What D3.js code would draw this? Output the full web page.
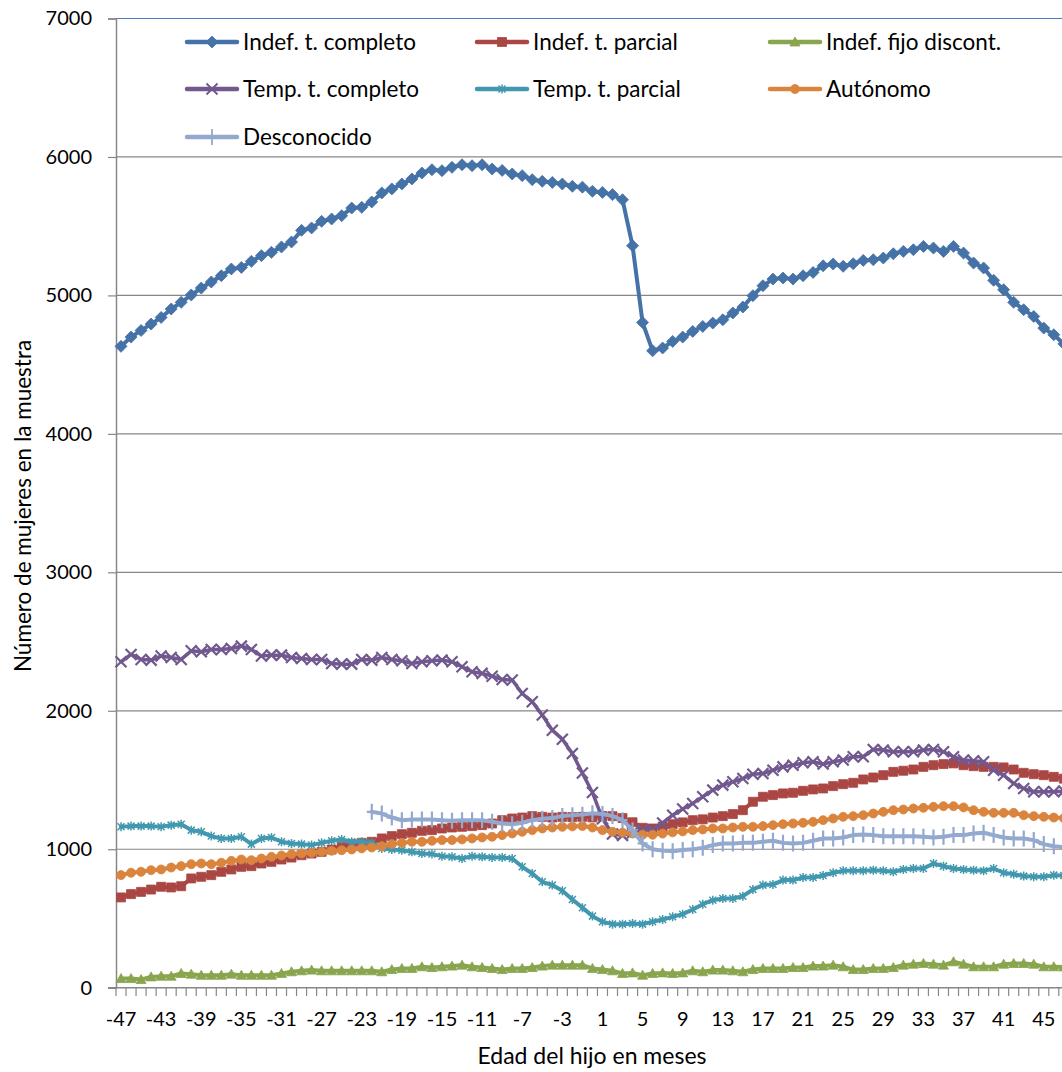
<!DOCTYPE html>
<html><head><meta charset="utf-8">
<script src="https://cdn.jsdelivr.net/npm/d3@7/dist/d3.min.js"></script>
<style>
html,body{margin:0;padding:0;background:#fff;overflow:hidden}
svg{display:block}
text{font-family:Lato,"Open Sans",sans-serif;fill:#000}
</style></head>
<body>
<svg id="chart" width="1062" height="1072"></svg>
<script>
const months = [-47,-46,-45,-44,-43,-42,-41,-40,-39,-38,-37,-36,-35,-34,-33,-32,-31,-30,-29,-28,-27,-26,-25,-24,-23,-22,-21,-20,-19,-18,-17,-16,-15,-14,-13,-12,-11,-10,-9,-8,-7,-6,-5,-4,-3,-2,-1,0,1,2,3,4,5,6,7,8,9,10,11,12,13,14,15,16,17,18,19,20,21,22,23,24,25,26,27,28,29,30,31,32,33,34,35,36,37,38,39,40,41,42,43,44,45,46,47];
const xTickLabels = [-47,-43,-39,-35,-31,-27,-23,-19,-15,-11,-7,-3,1,5,9,13,17,21,25,29,33,37,41,45];
const yTicks = [0,1000,2000,3000,4000,5000,6000,7000];

const indefCompleto = [4632,4699,4747,4793,4841,4902,4950,5003,5053,5097,5142,5191,5202,5246,5287,5311,5350,5386,5470,5487,5535,5552,5576,5631,5636,5675,5740,5769,5805,5841,5884,5908,5901,5925,5944,5937,5944,5913,5903,5877,5865,5836,5824,5816,5805,5788,5782,
 5752,5744,5728,5691,5359,4805,4600,4620,4668,4699,4740,4776,4800,4824,4873,4916,4998,5070,5118,5126,5118,5142,5166,5214,5227,5210,5229,5253,5258,5270,5301,5318,5330,5354,5342,5318,5354,5306,5234,5198,5109,5041,4950,4897,4848,4764,4716,4650];
const indefParcial = [652,676,692,709,729,724,733,789,801,813,837,854,873,878,897,909,926,940,957,969,981,998,1018,1037,1046,1054,1078,1095,1109,1119,1133,1138,1150,1157,1162,1167,1174,1186,1210,1222,1229,1239,1234,1229,1234,1232,1234,
 1230,1240,1239,1225,1195,1155,1150,1164,1181,1194,1210,1216,1229,1239,1254,1282,1343,1379,1391,1403,1408,1422,1432,1439,1456,1470,1480,1504,1518,1535,1559,1567,1576,1595,1607,1615,1620,1607,1600,1595,1595,1591,1576,1552,1542,1535,1523,1510];
const fijoDiscont = [66,66,59,78,83,83,103,98,90,90,90,98,90,90,90,90,103,115,122,127,122,122,122,122,122,122,115,131,139,139,151,146,151,156,163,151,146,139,131,139,139,146,156,163,163,163,163,
 139,131,122,103,107,90,103,107,103,107,122,115,127,127,122,115,131,139,139,139,146,146,156,156,163,151,131,131,139,139,146,163,170,175,170,163,187,170,151,151,151,170,175,175,170,151,151,150];
const tempCompleto = [2354,2407,2371,2366,2395,2385,2371,2433,2426,2443,2443,2450,2467,2443,2395,2402,2402,2385,2378,2371,2371,2342,2337,2337,2371,2366,2385,2371,2361,2342,2354,2361,2366,2354,2318,2282,2270,2250,2226,2222,2125,2065,1969,1860,1795,1692,1550,
 1410,1220,1110,1100,1120,1140,1140,1190,1246,1290,1331,1379,1427,1463,1487,1511,1542,1547,1571,1595,1607,1624,1632,1615,1632,1644,1668,1668,1721,1716,1704,1704,1704,1716,1721,1704,1668,1644,1639,1632,1571,1535,1475,1439,1415,1415,1415,1420];
const tempParcial = [1162,1167,1167,1167,1162,1174,1181,1138,1126,1095,1078,1078,1090,1037,1078,1085,1054,1042,1037,1030,1046,1061,1071,1054,1054,1046,1006,998,993,981,969,965,950,945,933,950,945,940,940,933,873,825,765,741,700,637,578,
 517,476,459,459,464,459,476,493,512,531,565,603,632,644,644,661,709,741,745,777,777,796,796,810,830,844,844,844,849,844,837,854,861,861,897,878,861,854,849,844,861,830,820,806,801,801,813,810];
const autonomo = [813,830,837,849,854,868,878,892,897,892,902,916,926,921,933,945,955,965,969,974,981,989,993,998,1006,1013,1022,1037,1046,1054,1054,1061,1066,1066,1071,1078,1085,1090,1102,1114,1126,1138,1150,1157,1162,1165,1168,
 1157,1138,1126,1120,1114,1105,1105,1113,1122,1129,1138,1143,1150,1150,1157,1162,1162,1167,1174,1181,1186,1191,1198,1210,1222,1234,1239,1246,1258,1270,1282,1287,1294,1299,1306,1311,1311,1302,1282,1270,1263,1263,1263,1246,1239,1234,1229,1225];
const desconocido = [null,null,null,null,null,null,null,null,null,null,null,null,null,null,null,null,null,null,null,null,null,null,null,null,null,
 1270,1258,1229,1210,1215,1215,1215,1210,1205,1210,1210,1210,1198,1186,1181,1191,1210,1220,1225,1240,1245,1250,
 1260,1255,1240,1210,1138,1042,1000,990,985,995,1000,1010,1030,1042,1042,1046,1046,1054,1061,1046,1042,1046,1061,1078,1078,1085,1102,1107,1102,1094,1094,1094,1094,1090,1085,1090,1102,1102,1114,1119,1102,1085,1078,1078,1066,1037,1022,1015];

const seriesNames = ["Indef. t. completo","Indef. t. parcial","Indef. fijo discont.","Temp. t. completo","Temp. t. parcial","Autónomo","Desconocido"];
const seriesColors = ["#4572A7","#AA4643","#89A54E","#71588F","#4198AF","#DB843D","#93A9CF"];
const seriesMarkers = ["diamond","square","triangle","x","star","circle","plus"];
const seriesValues = [indefCompleto,indefParcial,fijoDiscont,tempCompleto,tempParcial,autonomo,desconocido];

const svg = d3.select("#chart");
const bw = 10.03;
const x = d3.scaleBand().domain(months).range([116, 116 + months.length * bw]).padding(0);
const y = d3.scaleLinear().domain([0, 7000]).range([987.7, 18.5]);
const cx = m => x(m) + x.bandwidth() / 2;

// gridlines
svg.append("g").selectAll("line").data(yTicks.filter(v => v > 0)).join("line")
  .attr("x1", 116).attr("x2", 1062)
  .attr("y1", d => y(d)).attr("y2", d => y(d))
  .attr("stroke", d => d === 7000 ? "#4A7EBB" : "#878787").attr("stroke-width", 1.2);

// y axis
const yAxis = svg.append("g").attr("transform", "translate(116,0)")
  .call(d3.axisLeft(y).tickValues(yTicks).tickSize(8).tickPadding(16).tickFormat(d3.format("d")));
yAxis.select(".domain").attr("stroke", "#878787").attr("stroke-width", 1.5);
yAxis.selectAll(".tick line").attr("stroke", "#878787").attr("stroke-width", 1.2);
yAxis.selectAll("text").style("font-size", "20px").style("font-family", "Lato").attr("fill", "#000");

// x axis: boundary ticks
const boundaries = months.map(m => x(m)).concat([x(months[months.length - 1]) + x.bandwidth()]);
svg.append("g").selectAll("line").data(boundaries).join("line")
  .attr("x1", d => d).attr("x2", d => d).attr("y1", 987.7).attr("y2", 996)
  .attr("stroke", "#878787").attr("stroke-width", 1.2);
svg.append("line").attr("x1", 108).attr("x2", 1062).attr("y1", 987.7).attr("y2", 987.7)
  .attr("stroke", "#878787").attr("stroke-width", 1.5);
const xAxis = svg.append("g").attr("transform", "translate(0,987.7)")
  .call(d3.axisBottom(x).tickValues(xTickLabels).tickSize(0).tickPadding(24));
xAxis.select(".domain").remove();
xAxis.selectAll("text").style("font-size", "20px").style("font-family", "Lato").attr("fill", "#000");

// marker generator
function markerPath(type) {
  switch (type) {
    case "diamond": return "M0,-6L6,0L0,6L-6,0Z";
    case "square": return "M-4.5,-4.5H4.5V4.5H-4.5Z";
    case "triangle": return "M0,-5L5,4L-5,4Z";
    case "circle": return d3.symbol(d3.symbolCircle, 64)();
    case "x": return "M-5.5,-5.5L5.5,5.5M5.5,-5.5L-5.5,5.5";
    case "star": return "M-3.5,-3.5L3.5,3.5M3.5,-3.5L-3.5,3.5M0,-4.5V4.5";
    case "plus": return "M0,-8V8M-5,0H5";
  }
}
const strokeMarker = t => t === "x" || t === "star" || t === "plus";

const line = d3.line().defined(d => d.v !== null).x(d => cx(d.m)).y(d => y(d.v));

seriesValues.forEach((vals, i) => {
  const data = months.map((m, k) => ({ m, v: vals[k] }));
  const g = svg.append("g");
  g.append("path").datum(data).attr("d", line).attr("fill", "none")
    .attr("stroke", seriesColors[i]).attr("stroke-width", i === 3 ? 3.5 : 4)
    .attr("stroke-linejoin", "round").attr("stroke-linecap", "round");
  const t = seriesMarkers[i];
  g.selectAll("path.mk").data(data.filter(d => d.v !== null)).join("path").attr("class", "mk")
    .attr("transform", d => `translate(${cx(d.m)},${y(d.v)})`)
    .attr("d", markerPath(t))
    .attr("fill", strokeMarker(t) ? "none" : seriesColors[i])
    .attr("stroke", seriesColors[i])
    .attr("stroke-width", strokeMarker(t) ? (t === "star" ? 1.5 : 2.2) : 0.8);
});

// legend
const legCols = [187, 477, 770];
const legRows = [42, 89, 137];
const leg = svg.append("g");
seriesNames.forEach((name, i) => {
  const lx = legCols[i % 3], ly = legRows[Math.floor(i / 3)];
  const g = leg.append("g").attr("transform", `translate(${lx},${ly})`);
  g.append("line").attr("x1", 0).attr("x2", 50).attr("y1", 0).attr("y2", 0)
    .attr("stroke", seriesColors[i]).attr("stroke-width", 4.5).attr("stroke-linecap", "round");
  const t = seriesMarkers[i];
  g.append("path").attr("transform", "translate(25,0)").attr("d", markerPath(t))
    .attr("fill", strokeMarker(t) ? "none" : seriesColors[i]).attr("stroke", seriesColors[i])
    .attr("stroke-width", strokeMarker(t) ? (t === "star" ? 1.5 : 1.8) : 0.8);
  g.append("text").attr("x", 56).attr("y", 0).attr("dy", "0.35em")
    .style("font-size", "22.5px").text(name);
});

// axis titles
svg.append("text").attr("x", 592).attr("y", 1064).attr("text-anchor", "middle")
  .style("font-size", "23px").text("Edad del hijo en meses");
svg.append("text").attr("transform", "translate(31,506) rotate(-90)").attr("text-anchor", "middle")
  .style("font-size", "22.5px").text("Número de mujeres en la muestra");
</script>
</body></html>
